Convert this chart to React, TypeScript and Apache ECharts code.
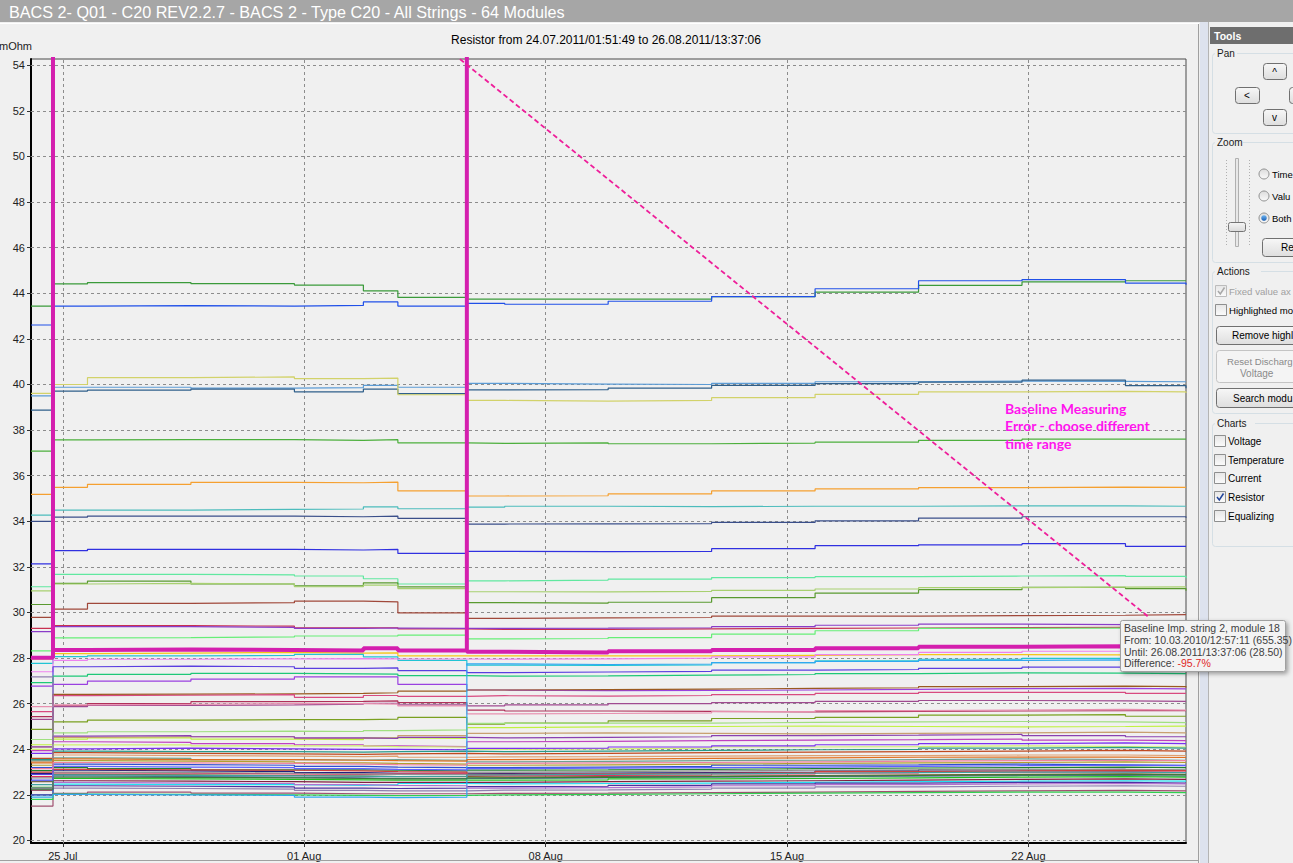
import React, { useEffect, useRef } from 'react';
import * as echarts from 'echarts';

// ---------- time stamps of the stored measurements ----------
const TIMES = [
  '2011-07-24T01:51:49', '2011-07-24T17:10:00', '2011-07-25T17:10:00', '2011-07-28T17:10:00',
  '2011-07-31T17:10:00', '2011-08-02T17:10:00', '2011-08-03T17:10:00', '2011-08-05T17:10:00',
  '2011-08-06T19:30:00', '2011-08-09T19:30:00', '2011-08-12T19:30:00', '2011-08-15T19:30:00',
  '2011-08-18T19:30:00', '2011-08-21T19:30:00', '2011-08-24T19:30:00', '2011-08-26T13:37:06',
];
const X_TICKS = ['2011-07-25T00:00:00', '2011-08-01T00:00:00', '2011-08-08T00:00:00', '2011-08-15T00:00:00', '2011-08-22T00:00:00'];
const Y_TICKS = [20, 22, 24, 26, 28, 30, 32, 34, 36, 38, 40, 42, 44, 46, 48, 50, 52, 54];
const MONTHS = ['Jan', 'Feb', 'Mar', 'Apr', 'May', 'Jun', 'Jul', 'Aug', 'Sep', 'Oct', 'Nov', 'Dec'];

// ---------- module resistances (mOhm), one row per module ----------
const MODULE_COLORS = [
  '#3a9a3a', '#2050e8', '#5b9bd5', '#2f5f8a', '#d2d26a', '#4caf3c', '#f5a030', '#4cbcbc', '#3a4f8a', '#3030e0',
  '#60e8a0', '#5a9a30', '#a8d070', '#a0483a', '#c83050', '#8a3cc8', '#66ee77', '#f5c518', '#22c4d4', '#ee82ee',
  '#5a3ee0', '#1ec878', '#9a40e0', '#9a5a20', '#d84a80',
  '#b0305a', '#a04a90', '#e890b0', '#7aa020', '#a0e080', '#c0f040', '#c8a070', '#8a40b0', '#c040c0', '#d0f070',
  '#7a30f0', '#2a9a8a', '#c04a20', '#e0a070', '#70a090', '#b0a030', '#3050d0', '#208030', '#202080', '#e03060',
  '#806030', '#5070a0', '#20c020', '#802040', '#20e0f0', '#9080b0', '#5030a0', '#a05070', '#30d050', '#30a8f0',
  '#e07020', '#909090', '#d04040', '#40a0a0', '#b070d0', '#3a7a3a', '#6060ff', '#f080a0',
];
const MODULE_VALUES = [
  [43.44, 44.41, 44.47, 44.42, 44.36, 44.11, 43.82, 43.74, 43.74, 43.74, 43.85, 44.05, 44.35, 44.5, 44.55, 44.57],
  [42.61, 43.44, 43.46, 43.44, 43.47, 43.62, 43.44, 43.56, 43.52, 43.65, 43.85, 44.2, 44.55, 44.6, 44.45, 44.38],
  [39.5, 39.88, 39.88, 39.84, 39.86, 39.96, 39.88, 40.05, 40.02, 40.0, 40.05, 40.12, 40.15, 40.14, 40.12, 40.11],
  [38.88, 39.71, 39.75, 39.8, 39.68, 39.8, 39.6, 39.76, 39.77, 39.84, 39.96, 40.04, 40.1, 40.19, 39.95, 39.84],
  [39.61, 40.0, 40.3, 40.33, 40.26, 40.28, 39.55, 39.3, 39.27, 39.3, 39.42, 39.57, 39.68, 39.7, 39.68, 39.63],
  [37.08, 37.57, 37.58, 37.58, 37.55, 37.58, 37.44, 37.42, 37.44, 37.4, 37.43, 37.47, 37.55, 37.6, 37.6, 37.6],
  [35.18, 35.49, 35.62, 35.71, 35.69, 35.72, 35.33, 35.11, 35.12, 35.2, 35.33, 35.42, 35.48, 35.5, 35.49, 35.46],
  [34.27, 34.49, 34.49, 34.52, 34.54, 34.63, 34.55, 34.62, 34.66, 34.64, 34.66, 34.66, 34.68, 34.68, 34.66, 34.68],
  [34.0, 34.18, 34.23, 34.23, 34.2, 34.23, 34.13, 33.88, 33.89, 33.9, 33.95, 34.02, 34.14, 34.2, 34.2, 34.16],
  [32.13, 32.71, 32.77, 32.77, 32.74, 32.77, 32.59, 32.68, 32.67, 32.68, 32.8, 32.93, 32.97, 33.02, 32.9, 32.87],
  [31.13, 31.67, 31.67, 31.65, 31.6, 31.48, 31.25, 31.39, 31.42, 31.46, 31.53, 31.57, 31.6, 31.62, 31.58, 31.5],
  [30.35, 31.28, 31.38, 31.25, 31.17, 31.3, 31.12, 30.43, 30.41, 30.45, 30.65, 30.85, 31.0, 31.1, 31.05, 30.95],
  [30.95, 31.25, 31.28, 31.25, 31.13, 31.2, 31.05, 30.91, 30.9, 30.93, 30.97, 31.03, 31.09, 31.11, 31.12, 31.12],
  [29.79, 30.15, 30.4, 30.43, 30.5, 30.47, 29.98, 29.74, 29.76, 29.78, 29.84, 29.84, 29.86, 29.88, 29.91, 29.88],
  [29.3, 29.42, 29.42, 29.4, 29.33, 29.33, 29.28, 29.26, 29.26, 29.28, 29.3, 29.32, 29.34, 29.35, 29.36, 29.36],
  [29.16, 29.38, 29.38, 29.35, 29.3, 29.32, 29.3, 29.3, 29.31, 29.33, 29.38, 29.44, 29.49, 29.47, 29.4, 29.38],
  [28.32, 28.89, 28.9, 28.93, 28.97, 28.97, 29.01, 28.84, 28.86, 28.9, 29.05, 29.2, 29.3, 29.32, 29.31, 29.31],
  [27.96, 28.2, 28.22, 28.25, 28.22, 28.23, 28.1, 28.1, 28.1, 28.1, 28.12, 28.15, 28.15, 28.14, 28.14, 28.14],
  [27.77, 28.06, 28.1, 28.12, 28.16, 28.05, 27.9, 27.69, 27.68, 27.7, 27.8, 27.88, 27.95, 27.99, 27.98, 27.98],
  [27.4, 27.9, 27.95, 27.97, 27.98, 27.97, 27.96, 27.95, 27.97, 28.0, 28.05, 28.15, 28.25, 28.3, 28.3, 28.3],
  [22.9, 27.62, 27.65, 27.62, 27.55, 27.57, 27.45, 27.36, 27.39, 27.42, 27.47, 27.5, 27.55, 27.6, 27.6, 27.57],
  [26.92, 27.21, 27.29, 27.33, 27.31, 27.3, 27.23, 27.21, 27.22, 27.25, 27.28, 27.32, 27.35, 27.34, 27.32, 27.32],
  [26.77, 26.85, 26.99, 27.08, 27.18, 27.18, 26.85, 26.6, 26.57, 26.58, 26.6, 26.63, 26.66, 26.67, 26.65, 26.62],
  [23.5, 26.41, 26.42, 26.43, 26.45, 26.48, 26.55, 26.6, 26.62, 26.64, 26.67, 26.7, 26.75, 26.77, 26.75, 26.71],
  [25.65, 26.35, 26.37, 26.4, 26.28, 26.36, 26.32, 26.35, 26.33, 26.36, 26.4, 26.45, 26.5, 26.5, 26.45, 26.42],
  [25.43, 25.91, 26.0, 26.09, 26.1, 26.12, 26.05, 25.72, 25.68, 25.66, 25.64, 25.66, 25.68, 25.69, 25.7, 25.69],
  [25.31, 25.87, 25.92, 25.95, 25.98, 26.02, 25.95, 25.9, 25.95, 26.0, 26.05, 26.1, 26.14, 26.12, 26.1, 26.1],
  [25.87, 25.95, 25.97, 26.0, 26.0, 25.98, 25.9, 25.55, 25.57, 25.6, 25.65, 25.7, 25.72, 25.75, 25.72, 25.7],
  [24.87, 25.2, 25.28, 25.3, 25.3, 25.32, 25.4, 25.1, 25.15, 25.25, 25.35, 25.4, 25.5, 25.52, 25.45, 25.42],
  [24.43, 24.72, 24.77, 24.8, 24.78, 24.82, 24.85, 25.14, 25.15, 25.15, 25.18, 25.2, 25.22, 25.2, 25.17, 25.15],
  [24.2, 24.45, 24.5, 24.45, 24.42, 24.5, 24.48, 24.95, 24.98, 25.0, 25.02, 25.0, 24.98, 25.0, 25.02, 25.0],
  [24.1, 24.52, 24.55, 24.55, 24.48, 24.5, 24.6, 24.7, 24.72, 24.7, 24.68, 24.7, 24.72, 24.75, 24.72, 24.7],
  [24.11, 24.58, 24.6, 24.55, 24.5, 24.48, 24.52, 24.5, 24.52, 24.55, 24.6, 24.62, 24.65, 24.6, 24.55, 24.55],
  [23.94, 24.33, 24.3, 24.25, 24.2, 24.15, 24.12, 24.33, 24.35, 24.38, 24.4, 24.42, 24.45, 24.4, 24.38, 24.38],
  [24.0, 24.19, 24.2, 24.15, 24.15, 24.12, 24.1, 24.0, 24.02, 24.05, 24.1, 24.12, 24.15, 24.12, 24.1, 24.1],
  [23.82, 24.02, 24.05, 24.02, 24.0, 24.0, 23.98, 24.04, 24.05, 24.1, 24.15, 24.2, 24.25, 24.28, 24.25, 24.25],
  [23.56, 23.92, 23.9, 23.9, 23.88, 23.9, 23.92, 23.9, 23.92, 23.95, 23.98, 24.0, 24.05, 24.08, 24.05, 24.05],
  [23.6, 23.85, 23.82, 23.8, 23.78, 23.8, 23.82, 23.8, 23.82, 23.85, 23.88, 23.9, 23.92, 23.95, 23.92, 23.9],
  [23.45, 23.75, 23.72, 23.7, 23.68, 23.7, 23.65, 23.67, 23.68, 23.7, 23.72, 23.72, 23.75, 23.75, 23.72, 23.72],
  [23.5, 23.62, 23.6, 23.55, 23.53, 23.55, 23.52, 23.45, 23.47, 23.5, 23.52, 23.55, 23.58, 23.55, 23.52, 23.5],
  [23.3, 23.5, 23.48, 23.45, 23.4, 23.38, 23.35, 23.3, 23.32, 23.35, 23.38, 23.4, 23.42, 23.45, 23.42, 23.4],
  [23.2, 23.35, 23.33, 23.3, 23.25, 23.22, 23.2, 23.2, 23.22, 23.25, 23.3, 23.32, 23.35, 23.32, 23.3, 23.3],
  [23.06, 23.2, 23.15, 23.1, 23.1, 23.08, 23.05, 23.09, 23.1, 23.12, 23.15, 23.18, 23.2, 23.22, 23.2, 23.18],
  [22.94, 23.08, 23.05, 23.02, 22.98, 22.95, 22.95, 22.94, 22.96, 22.98, 23.0, 23.05, 23.1, 23.12, 23.08, 23.05],
  [22.8, 22.97, 22.95, 22.92, 22.9, 22.92, 22.95, 22.83, 22.85, 22.88, 22.92, 22.96, 23.0, 23.02, 23.0, 22.98],
  [22.58, 22.9, 22.88, 22.85, 22.82, 22.8, 22.8, 22.78, 22.8, 22.82, 22.85, 22.88, 22.9, 22.92, 22.9, 22.88],
  [22.62, 22.83, 22.8, 22.78, 22.75, 22.72, 22.72, 22.72, 22.74, 22.78, 22.8, 22.82, 22.85, 22.85, 22.82, 22.8],
  [22.33, 22.72, 22.7, 22.68, 22.66, 22.65, 22.65, 22.65, 22.66, 22.7, 22.72, 22.75, 22.78, 22.8, 22.78, 22.75],
  [22.21, 22.62, 22.6, 22.58, 22.55, 22.55, 22.55, 22.55, 22.58, 22.6, 22.62, 22.65, 22.68, 22.7, 22.68, 22.66],
  [22.0, 22.47, 22.45, 22.45, 22.42, 22.45, 22.5, 22.48, 22.5, 22.52, 22.55, 22.58, 22.6, 22.62, 22.6, 22.58],
  [27.18, 22.3, 22.28, 22.25, 22.2, 22.18, 22.18, 22.21, 22.22, 22.25, 22.3, 22.35, 22.38, 22.4, 22.38, 22.36],
  [22.0, 22.4, 22.38, 22.35, 22.3, 22.28, 22.3, 22.36, 22.38, 22.42, 22.48, 22.52, 22.55, 22.55, 22.52, 22.5],
  [21.51, 22.07, 22.12, 22.08, 22.05, 22.05, 22.05, 22.07, 22.08, 22.1, 22.12, 22.15, 22.18, 22.2, 22.18, 22.17],
  [21.8, 22.03, 22.02, 22.0, 21.98, 21.97, 21.98, 22.0, 22.02, 22.05, 22.08, 22.1, 22.12, 22.12, 22.1, 22.1],
  [21.9, 22.02, 22.0, 21.98, 21.9, 21.88, 21.9, 27.75, 27.72, 27.74, 27.8, 27.85, 27.9, 27.92, 27.9, 27.9],
  [23.4, 23.58, 23.55, 23.55, 23.52, 23.5, 23.48, 23.55, 23.57, 23.6, 23.62, 23.65, 23.66, 23.66, 23.64, 23.62],
  [22.75, 23.0, 22.98, 22.95, 22.92, 22.9, 22.9, 23.0, 23.02, 23.05, 23.08, 23.1, 23.12, 23.12, 23.1, 23.08],
  [23.0, 23.12, 23.1, 23.08, 23.05, 23.02, 23.0, 22.9, 22.92, 22.95, 22.98, 23.02, 23.05, 23.08, 23.06, 23.05],
  [22.45, 22.88, 22.86, 22.84, 22.82, 22.8, 22.82, 22.88, 22.9, 22.92, 22.95, 22.98, 23.0, 23.0, 22.98, 22.97],
  [22.3, 22.55, 22.52, 22.5, 22.45, 22.42, 22.4, 22.3, 22.32, 22.35, 22.4, 22.45, 22.48, 22.5, 22.48, 22.45],
  [22.25, 22.78, 22.77, 22.75, 22.72, 22.7, 22.7, 22.75, 22.77, 22.8, 22.82, 22.85, 22.88, 22.9, 22.88, 22.86],
  [22.65, 23.25, 23.22, 23.2, 23.15, 23.12, 23.1, 23.15, 23.17, 23.2, 23.22, 23.25, 23.28, 23.3, 23.28, 23.26],
  [23.15, 23.42, 23.4, 23.38, 23.35, 23.33, 23.3, 23.38, 23.4, 23.42, 23.45, 23.48, 23.5, 23.52, 23.5, 23.48],
];

// highlighted module 18 (baseline 655.35 mOhm stored at two measurements)
const HL_TIME_INDEX = [0, 1, 1, 2, 3, 4, 5, 6, 7, 7, 8, 9, 10, 11, 12, 13, 14, 15];
const HL_VALUES = [28.02, 655.35, 28.35, 28.38, 28.36, 28.33, 28.43, 28.33, 655.35, 28.28, 28.25, 28.3, 28.35, 28.43, 28.5, 28.52, 28.5, 28.5];

// annotation arrow (dashed) end points: [time, value]
const ANNOT_LINE: [string, number][] = [['2011-08-05T12:22:00', 54.27], ['2011-08-25T12:27:00', 29.76]];

const TOOLTIP_LINES = [
  'Baseline Imp. string 2, module 18',
  'From: 10.03.2010/12:57:11 (655.35)',
  'Until: 26.08.2011/13:37:06 (28.50)',
];
const TOOLTIP_DIFF = '-95.7%';
const ANNOT_TEXT = ['Baseline Measuring', 'Error - choose different', 'time range'];

const UI_FONT = '"Liberation Sans", Arial, sans-serif';
const ARIAL = '"Liberation Sans", Arial, sans-serif';

function ts(s: string) { return new Date(s).getTime(); }

function txt(x: number, y: number, text: string, o: any = {}) {
  const style: any = {
    text, fill: o.fill || '#000', fontSize: o.size || 10, fontFamily: o.family || UI_FONT,
    fontWeight: o.weight || 'normal', align: o.align || 'left', verticalAlign: 'middle',
  };
  if (o.rich) style.rich = o.rich;
  return { type: 'text', x, y, z: o.z ?? 60, silent: true, style };
}
function grad(a: string, b: string) {
  return new echarts.graphic.LinearGradient(0, 0, 0, 1, [{ offset: 0, color: a }, { offset: 1, color: b }]);
}
function btn(x: number, y: number, w: number, h: number, disabled = false) {
  return {
    type: 'rect', z: 55, silent: true, shape: { x: x + 0.5, y: y + 0.5, width: w, height: h, r: 3 },
    style: { fill: disabled ? '#f4f4f4' : grad('#f7f7f7', '#dedede'), stroke: disabled ? '#c4c4c4' : '#707070', lineWidth: 1 },
  };
}
function groupBox(x: number, y: number, w: number, h: number, label: string) {
  return [
    { type: 'rect', z: 52, silent: true, shape: { x: x + 0.5, y: y + 0.5, width: w, height: h, r: 3 }, style: { fill: 'none', stroke: '#d5dfe5', lineWidth: 1 } },
    { type: 'rect', z: 53, silent: true, shape: { x: x + 3, y: y - 6, width: label.length * 6 + 4, height: 12 }, style: { fill: '#f0f0f0' } },
    txt(x + 5, y, label, { fill: '#1a1a1a' }),
  ];
}
function checkBox(x: number, y: number, label: string, checked: boolean, disabled = false, size = 10) {
  const els: any[] = [
    { type: 'rect', z: 55, silent: true, shape: { x: x + 0.5, y: y - 5.5, width: 11, height: 11 }, style: { fill: grad('#e6e6e6', '#fbfbfb'), stroke: disabled ? '#bcbcbc' : '#8e8f8f', lineWidth: 1 } },
    txt(x + 14, y, label, { fill: disabled ? '#a0a0a0' : '#000', size }),
  ];
  if (checked) {
    els.push({ type: 'polyline', z: 56, silent: true, shape: { points: [[x + 3, y], [x + 5.3, y + 3], [x + 9.5, y - 3.5]] }, style: { stroke: disabled ? '#a8a8a8' : '#21449a', lineWidth: 1.5, fill: 'none' } });
  }
  return els;
}
function radio(x: number, y: number, label: string, checked: boolean) {
  const els: any[] = [
    { type: 'circle', z: 55, silent: true, shape: { cx: x, cy: y, r: 5 }, style: { fill: grad('#dcdcdc', '#fafafa'), stroke: '#8e8f8f', lineWidth: 1 } },
    txt(x + 8, y, label, { size: 9.5 }),
  ];
  if (checked) els.push({ type: 'circle', z: 56, silent: true, shape: { cx: x, cy: y, r: 2.8 }, style: { fill: grad('#6fb6f2', '#1a5fb4') } });
  return els;
}

export default function App() {
  const ref = useRef<HTMLDivElement>(null);
  useEffect(() => {
    if (!ref.current) return;
    const chart = echarts.init(ref.current, undefined, { renderer: 'svg' });
    const T = TIMES.map(ts);
    const xTicks = X_TICKS.map(ts);

    const moduleSeries = MODULE_VALUES.map((vals, i) => ({
      type: 'line', name: 'Module ' + (i + 1), step: 'end', silent: true, symbol: 'none', showSymbol: false,
      data: vals.map((v, j) => [T[j], v]),
      lineStyle: { color: MODULE_COLORS[i], width: 1.2 }, itemStyle: { color: MODULE_COLORS[i] }, z: 2,
    }));

    const gridSeries = {
      type: 'line', name: 'grid', silent: true, symbol: 'none', data: [[T[0], 20]], lineStyle: { opacity: 0 },
      markLine: {
        silent: true, symbol: 'none', z: 1, label: { show: false },
        lineStyle: { color: '#8c8c8c', type: [3, 3], width: 1 },
        data: [...Y_TICKS.map(v => ({ yAxis: v })), ...xTicks.map(v => ({ xAxis: v }))],
      },
    };

    const hlSeries = {
      type: 'line', name: 'Module 18', step: 'end', silent: true, symbol: 'none', showSymbol: false, z: 4,
      data: HL_TIME_INDEX.map((ti, k) => [T[ti], HL_VALUES[k]]),
      lineStyle: { color: '#d41fae', width: 4 },
      markLine: {
        silent: true, symbol: 'none', z: 6, label: { show: false },
        lineStyle: { color: '#ee1e9a', type: [5, 3], width: 1.8 },
        data: [[{ coord: [ts(ANNOT_LINE[0][0]), ANNOT_LINE[0][1]] }, { coord: [ts(ANNOT_LINE[1][0]), ANNOT_LINE[1][1]] }]],
      },
    };

    const graphic: any[] = [
      // window title bar
      { type: 'rect', z: 10, silent: true, shape: { x: 0, y: 0, width: 1293, height: 22 }, style: { fill: '#a6a6a6' } },
      txt(9, 12, 'BACS 2- Q01 - C20 REV2.2.7 - BACS 2 - Type C20 - All Strings - 64 Modules', { fill: '#ffffff', size: 16.2, family: ARIAL }),
      { type: 'line', z: 10, silent: true, shape: { x1: 0, y1: 23.5, x2: 1199, y2: 23.5 }, style: { stroke: '#ffffff', lineWidth: 1 } },
      // chart title and unit
      txt(606, 40, 'Resistor from 24.07.2011/01:51:49 to 26.08.2011/13:37:06', { size: 12, family: ARIAL, align: 'center' }),
      txt(-1, 46, 'mOhm', { size: 11, family: ARIAL, fill: '#222' }),
      // panel borders / splitter
      { type: 'line', z: 10, silent: true, shape: { x1: 0, y1: 860.5, x2: 1199, y2: 860.5 }, style: { stroke: '#a0a0a0', lineWidth: 1 } },
      { type: 'line', z: 10, silent: true, shape: { x1: 1198.5, y1: 24, x2: 1198.5, y2: 863 }, style: { stroke: '#a0a0a0', lineWidth: 1 } },
      { type: 'rect', z: 10, silent: true, shape: { x: 1200, y: 22, width: 8, height: 841 }, style: { fill: '#dde2ee' } },
      { type: 'line', z: 10, silent: true, shape: { x1: 1208.5, y1: 22, x2: 1208.5, y2: 863 }, style: { stroke: '#b4b4b4', lineWidth: 1 } },
      // tools header
      { type: 'rect', z: 50, silent: true, shape: { x: 1210, y: 27, width: 83, height: 17 }, style: { fill: '#6e6e6e' } },
      txt(1214, 35.5, 'Tools', { fill: '#ffffff', weight: 'bold', size: 10.5 }),
      // Pan
      ...groupBox(1212, 53, 90, 80, 'Pan'),
      btn(1263, 63, 23, 16), txt(1274.5, 72, '^', { align: 'center' }),
      btn(1235, 87, 24, 16), txt(1247, 95, '<', { align: 'center' }),
      btn(1289, 87, 24, 16),
      btn(1263, 109, 23, 16), txt(1274.5, 117, 'v', { align: 'center' }),
      // Zoom
      ...groupBox(1212, 142, 90, 120, 'Zoom'),
      { type: 'line', z: 55, silent: true, shape: { x1: 1226.5, y1: 160, x2: 1226.5, y2: 245 }, style: { stroke: '#b0b0b0', lineWidth: 1, lineDash: [1, 2] } },
      { type: 'line', z: 55, silent: true, shape: { x1: 1249.5, y1: 160, x2: 1249.5, y2: 245 }, style: { stroke: '#b0b0b0', lineWidth: 1, lineDash: [1, 2] } },
      { type: 'rect', z: 55, silent: true, shape: { x: 1235.5, y: 158.5, width: 3, height: 88 }, style: { fill: '#e8e8e8', stroke: '#b0b0b0', lineWidth: 1 } },
      { type: 'rect', z: 56, silent: true, shape: { x: 1228.5, y: 222.5, width: 17, height: 9, r: 2 }, style: { fill: grad('#f5f5f5', '#dadada'), stroke: '#747474', lineWidth: 1 } },
      ...radio(1264, 174, 'Time', false),
      ...radio(1264, 196, 'Valu', false),
      ...radio(1264, 218, 'Both', true),
      btn(1262, 238, 60, 18), txt(1281, 247, 'Re'),
      // Actions
      ...groupBox(1212, 271, 90, 142, 'Actions'),
      ...checkBox(1215, 291, 'Fixed value ax', true, true, 9.6),
      ...checkBox(1215, 310, 'Highlighted mo', false, false, 9.6),
      btn(1216, 326, 90, 18), txt(1232, 335, 'Remove highl'),
      btn(1216, 350, 90, 32, true), txt(1227, 361, 'Reset Discharg', { fill: '#8a8a8a', size: 9.6 }), txt(1240, 373, 'Voltage', { fill: '#8a8a8a' }),
      btn(1216, 388, 90, 19), txt(1233, 398, 'Search modu'),
      // Charts
      ...groupBox(1212, 423, 90, 123, 'Charts'),
      ...checkBox(1214, 441, 'Voltage', false),
      ...checkBox(1214, 460, 'Temperature', false),
      ...checkBox(1214, 478, 'Current', false),
      ...checkBox(1214, 497, 'Resistor', true),
      ...checkBox(1214, 516, 'Equalizing', false),
      // annotation text
      ...ANNOT_TEXT.map((t, i) => txt(1005, 408 + i * 17.5, t, { fill: '#ff14ee', weight: 'bold', size: 14, family: 'Lato, "Open Sans", sans-serif', z: 90 })),
      // tooltip box
      { type: 'rect', z: 95, silent: true, shape: { x: 1120.5, y: 620.5, width: 165, height: 51, r: 2 }, style: { fill: '#f3f3f3', stroke: '#a0a0a0', lineWidth: 1, shadowBlur: 4, shadowColor: 'rgba(0,0,0,0.35)', shadowOffsetX: 2, shadowOffsetY: 2 } },
      ...TOOLTIP_LINES.map((t, i) => txt(1124, 628 + i * 11.8, t, { fill: '#404040', size: 10.5, z: 96 })),
      txt(1124, 663.4, 'Difference: {r|' + TOOLTIP_DIFF + '}', { fill: '#404040', size: 10.5, z: 96, rich: { r: { fill: '#e02828', fontSize: 10.5, fontFamily: UI_FONT } } }),
    ];

    chart.setOption({
      animation: false,
      backgroundColor: '#f0f0f0',
      textStyle: { fontFamily: ARIAL },
      grid: { left: 31, top: 59, width: 1155, height: 784, show: true, borderColor: '#4a4a4a', borderWidth: 1, backgroundColor: 'transparent' },
      xAxis: {
        type: 'value', min: T[0], max: T[T.length - 1],
        axisLine: { show: true, onZero: false, lineStyle: { color: '#000', width: 2 } },
        axisTick: { show: true, customValues: xTicks, length: 4, lineStyle: { color: '#333' } },
        axisLabel: {
          customValues: xTicks, color: '#222', fontSize: 11, fontFamily: ARIAL, margin: 7,
          formatter: (v: number) => { const d = new Date(v); return String(d.getDate()).padStart(2, '0') + ' ' + MONTHS[d.getMonth()]; },
        },
        splitLine: { show: false },
      },
      yAxis: {
        type: 'value', min: 19.89, max: 54.276,
        axisLine: { show: true, onZero: false, lineStyle: { color: '#000', width: 2 } },
        axisTick: { show: true, customValues: Y_TICKS, length: 4, lineStyle: { color: '#333' } },
        axisLabel: { customValues: Y_TICKS, color: '#222', fontSize: 11, fontFamily: ARIAL, margin: 6, formatter: (v: number) => String(v) },
        splitLine: { show: false },
      },
      series: [gridSeries, ...moduleSeries, hlSeries],
      graphic,
    });
    return () => chart.dispose();
  }, []);
  return <div ref={ref} style={{ position: 'fixed', left: 0, top: 0, width: 1293, height: 863 }} />;
}
